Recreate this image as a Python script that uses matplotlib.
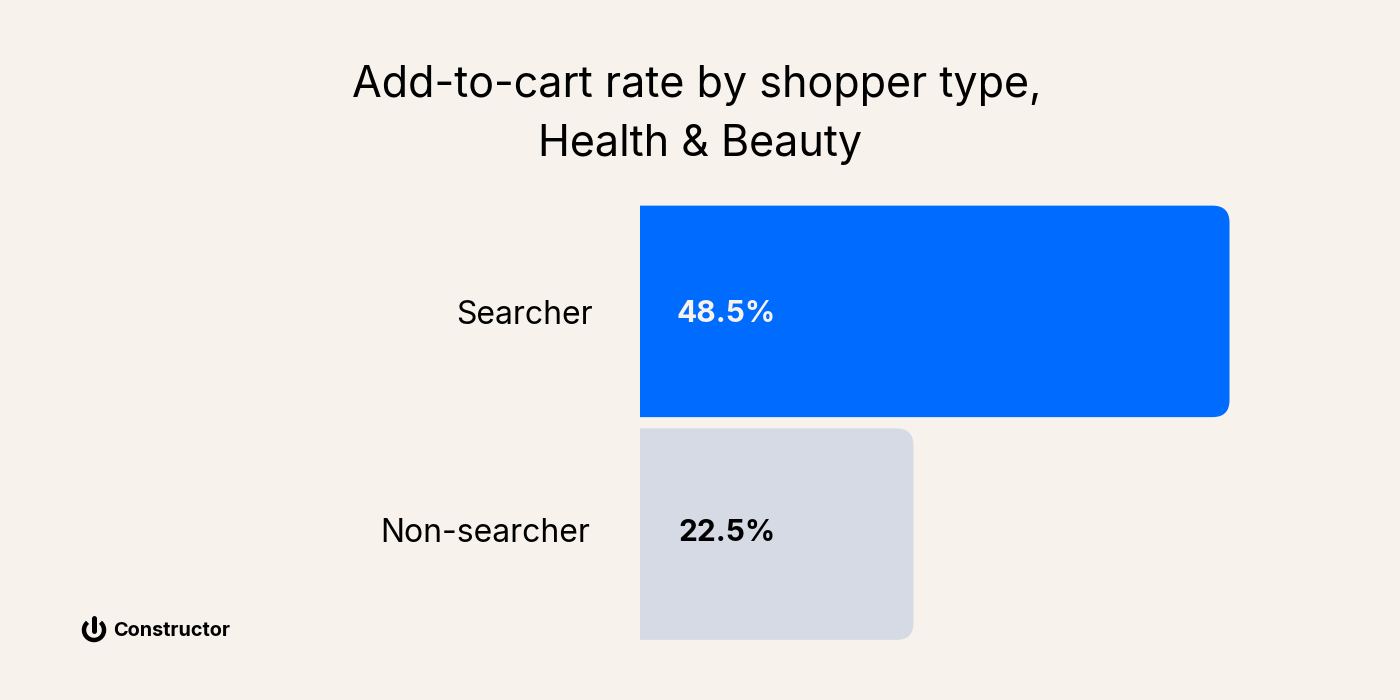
import matplotlib
matplotlib.use('Agg')
import matplotlib.pyplot as plt
from matplotlib.patches import PathPatch, Arc
from matplotlib.path import Path

plt.rcParams['font.family'] = ['Inter', 'DejaVu Sans']

categories = ['Searcher', 'Non-searcher']
values = [48.5, 22.5]
value_labels = ['48.5%', '22.5%']
bar_colors = ['#006BFF', '#D6DAE5']
label_colors = ['#F7F3EC', '#000000']
label_x = [593, 590]
label_y = [316, 534]
value_y = [314.5, 533]

BG = '#F7F3EC'
W, H = 1400, 700

fig = plt.figure(figsize=(14, 7), dpi=100, facecolor=BG)

# axes cover the bar area only, in pixels: x 640-1229.5, y 205-640
ax = fig.add_axes([640 / W, 1 - 640.5 / H, 589.5 / W, 435.5 / H])
ax.set_xlim(0, 48.5)
ax.set_ylim(1.4776, -0.4776)
ax.axis('off')

px_x = 48.5 / 589.5
px_y = 1.9552 / 435.5
bar_h = 211.5 * px_y
r = 17


def rounded_bar(val, y, color):
    # only the right end is rounded
    rx, ry = r * px_x, r * px_y
    top, bot = y - bar_h / 2, y + bar_h / 2
    verts = [(0, top), (val - rx, top), (val, top), (val, top + ry),
             (val, bot - ry), (val, bot), (val - rx, bot), (0, bot), (0, top)]
    codes = [Path.MOVETO, Path.LINETO, Path.CURVE3, Path.CURVE3,
             Path.LINETO, Path.CURVE3, Path.CURVE3, Path.LINETO, Path.CLOSEPOLY]
    ax.add_patch(PathPatch(Path(verts, codes), fc=color, ec='none'))


for i, val in enumerate(values):
    rounded_bar(val, i, bar_colors[i])
    fig.text(726.5 / W, 1 - value_y[i] / H, value_labels[i], color=label_colors[i],
             fontsize=21.5, fontweight='bold', va='center', ha='center')
    fig.text(label_x[i] / W, 1 - label_y[i] / H, categories[i], fontsize=23,
             color='black', ha='right', va='center')

# title
fig.text(696.5 / W, 1 - 85 / H, 'Add-to-cart rate by shopper type,', fontsize=31,
         color='black', ha='center', va='center')
fig.text(700 / W, 1 - 144.5 / H, 'Health & Beauty', fontsize=31,
         color='black', ha='center', va='center')

# logo
overlay = fig.add_axes([0, 0, 1, 1], facecolor='none')
overlay.set_xlim(0, W)
overlay.set_ylim(H, 0)
overlay.axis('off')
overlay.add_patch(Arc((94, 630), 20, 20, theta1=-50, theta2=230, lw=3.2, color='black'))
overlay.plot([94, 94], [618, 631], color='black', lw=3.6, solid_capstyle='round')
overlay.text(113, 631, 'Constructor', fontsize=14.3, fontweight='bold', color='black',
             ha='left', va='center')

fig.savefig('out.png', dpi=100, facecolor=BG)
